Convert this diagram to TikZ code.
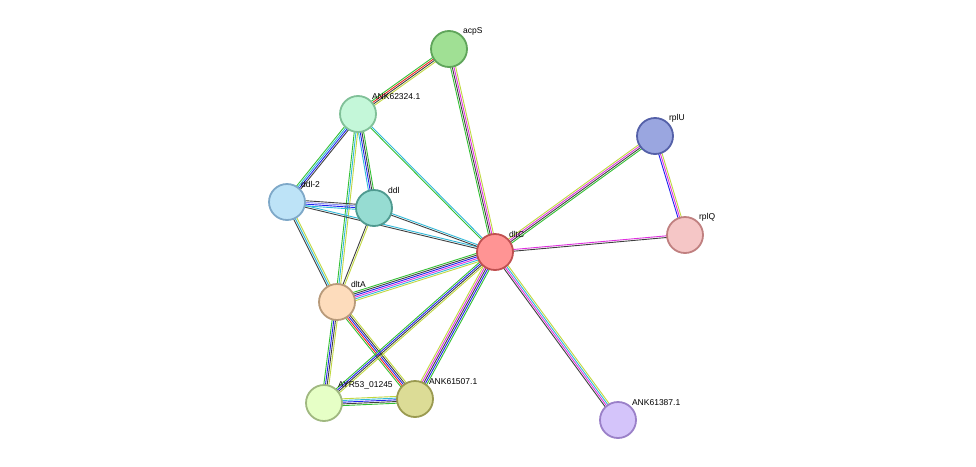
\documentclass[tikz,border=0pt]{standalone}
\usepackage{fontspec}
\setmainfont{Liberation Sans}
\usetikzlibrary{calc}
\pgfdeclarelayer{bg}\pgfsetlayers{bg,main}
\definecolor{grn}{HTML}{33C033}
\definecolor{rd}{HTML}{F02020}
\definecolor{blk}{HTML}{404040}
\definecolor{yl}{HTML}{C0D840}
\definecolor{mag}{HTML}{E030E0}
\definecolor{blu}{HTML}{2020F0}
\definecolor{cyn}{HTML}{30B8D8}
\definecolor{lav}{HTML}{9090F0}
\definecolor{fA}{HTML}{A0E094}\definecolor{dA}{HTML}{5FA55A}
\definecolor{fB}{HTML}{C4F7D9}\definecolor{dB}{HTML}{80C098}
\definecolor{fC}{HTML}{9AA6E0}\definecolor{dC}{HTML}{5460A8}
\definecolor{fD}{HTML}{BDE3F7}\definecolor{dD}{HTML}{7EA8C8}
\definecolor{fE}{HTML}{96DCD2}\definecolor{dE}{HTML}{4F9A90}
\definecolor{fF}{HTML}{FF9494}\definecolor{dF}{HTML}{C05050}
\definecolor{fG}{HTML}{F5C6C6}\definecolor{dG}{HTML}{C08080}
\definecolor{fH}{HTML}{FDDCBC}\definecolor{dH}{HTML}{B89A7A}
\definecolor{fI}{HTML}{E6FFC6}\definecolor{dI}{HTML}{A0B880}
\definecolor{fJ}{HTML}{DCDC96}\definecolor{dJ}{HTML}{9A9A50}
\definecolor{fK}{HTML}{D4C4FA}\definecolor{dK}{HTML}{9A80C8}
\newcommand\sedge[4]{%
  \foreach \c [count=\i] in {#4} {%
    \pgfmathsetmacro\off{(\i-(#3+1)/2)*1.7}%
    \draw[\c,line width=0.9pt] ($(#1)!\off pt!90:(#2)$) -- ($(#2)!\off pt!-90:(#1)$);
  }}
\tikzset{prot/.style={circle,minimum size=36pt,inner sep=0pt,line width=1.8pt},
  lab/.style={anchor=south west,inner sep=0.5pt,font=\fontsize{8.5}{10}\selectfont}}
\begin{document}
\begin{tikzpicture}[x=1pt,y=-1pt]
\useasboundingbox (0,0) rectangle (976,466);
\node[prot,fill=fA,draw=dA,label={[lab]45:acpS}] (acpS) at (449,49) {};
\node[prot,fill=fB,draw=dB,label={[lab]45:ANK62324.1}] (a624) at (358,114) {};
\node[prot,fill=fC,draw=dC,label={[lab]45:rplU}] (rplU) at (655,136) {};
\node[prot,fill=fD,draw=dD,label={[lab]45:ddl-2}] (ddl2) at (287,202) {};
\node[prot,fill=fE,draw=dE,label={[lab]45:ddl}] (ddl) at (374,208) {};
\node[prot,fill=fF,draw=dF,label={[lab]45:dltC}] (dltC) at (495,252) {};
\node[prot,fill=fG,draw=dG,label={[lab]45:rplQ}] (rplQ) at (685,235) {};
\node[prot,fill=fH,draw=dH,label={[lab]45:dltA}] (dltA) at (337,302) {};
\node[prot,fill=fI,draw=dI,label={[lab]45:AYR53\_01245}] (ayr) at (324,403) {};
\node[prot,fill=fJ,draw=dJ,label={[lab]45:ANK61507.1}] (a615) at (415,399) {};
\node[prot,fill=fK,draw=dK,label={[lab]45:ANK61387.1}] (a613) at (618,420) {};
\begin{pgfonlayer}{bg}
\sedge{acpS}{a624}{4}{grn,rd,blk,yl}
\sedge{acpS}{dltC}{4}{grn,blk,mag,yl}
\sedge{a624}{ddl2}{4}{grn,cyn,blu,blk}
\sedge{a624}{ddl}{4}{cyn,blu,blk,grn}
\sedge{a624}{dltA}{3}{grn,cyn,yl}
\sedge{a624}{dltC}{2}{grn,cyn}
\sedge{ddl2}{ddl}{4}{cyn,blu,lav,blk}
\sedge{ddl2}{dltC}{2}{blk,cyn}
\sedge{ddl}{dltC}{2}{blk,cyn}
\sedge{ddl2}{dltA}{3}{blk,cyn,yl}
\sedge{ddl}{dltA}{2}{blk,yl}
\sedge{dltA}{dltC}{6}{yl,cyn,mag,blu,blk,grn}
\sedge{dltA}{ayr}{4}{grn,blu,blk,yl}
\sedge{dltA}{a615}{5}{grn,rd,blu,blk,yl}
\sedge{dltC}{ayr}{4}{grn,blu,blk,yl}
\sedge{dltC}{a615}{5}{yl,mag,blk,blu,grn}
\sedge{ayr}{a615}{5}{grn,blk,blu,cyn,yl}
\sedge{dltC}{rplU}{4}{grn,blk,mag,yl}
\sedge{dltC}{rplQ}{2}{blk,mag}
\sedge{rplU}{rplQ}{3}{blu,mag,yl}
\sedge{dltC}{a613}{4}{blk,mag,cyn,yl}
\end{pgfonlayer}
\end{tikzpicture}
\end{document}
